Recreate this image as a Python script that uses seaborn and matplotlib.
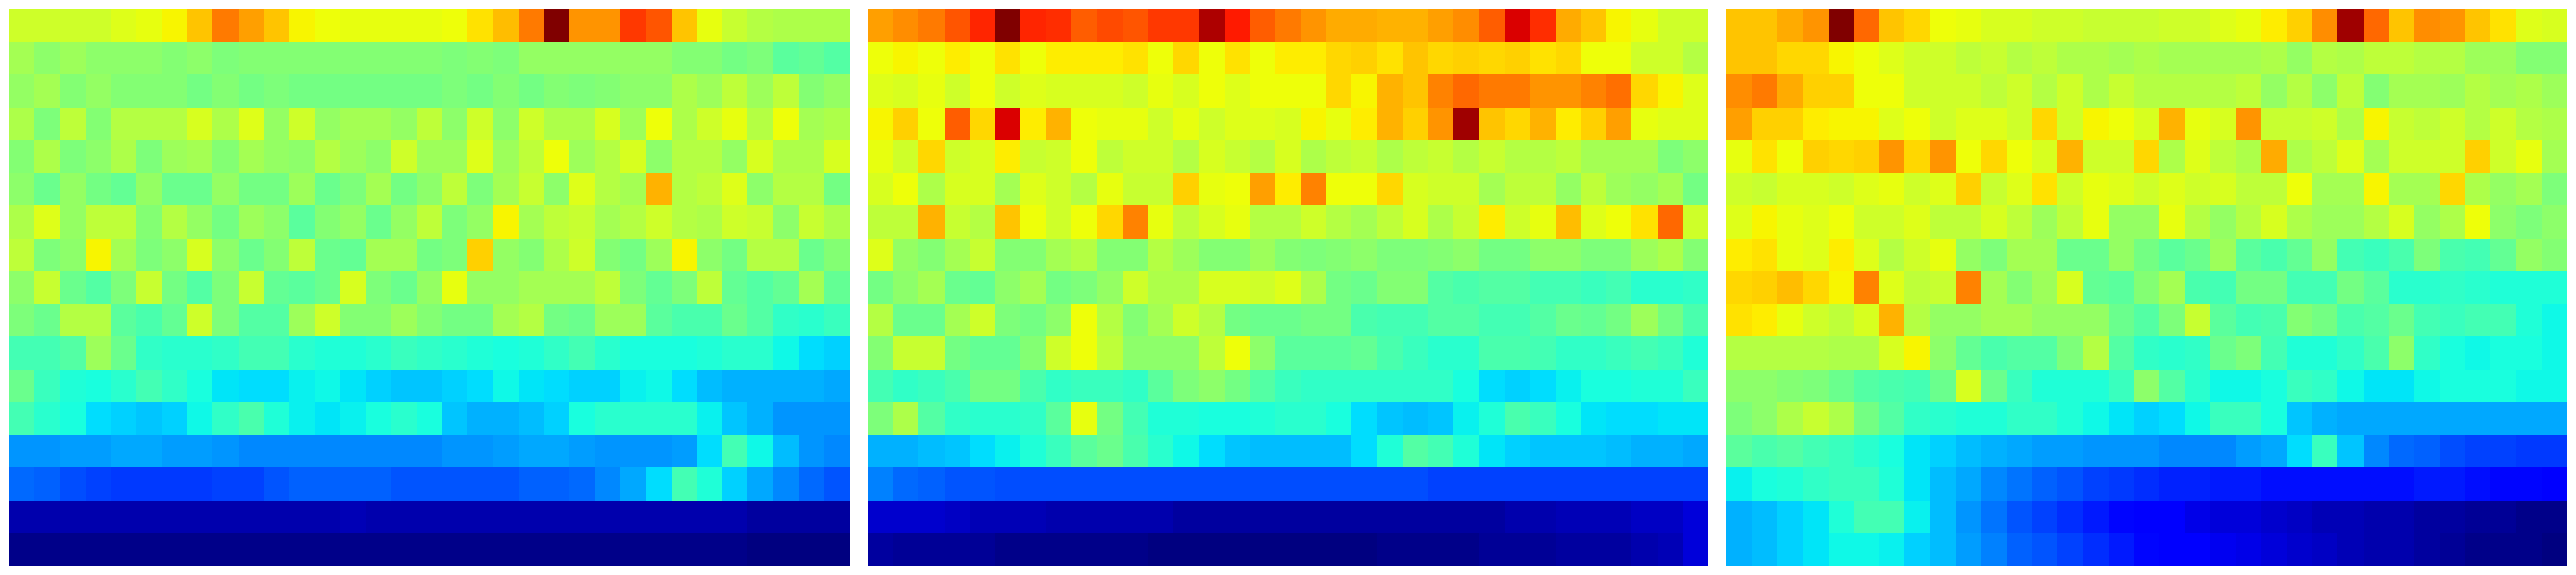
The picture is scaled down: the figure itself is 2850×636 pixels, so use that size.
import matplotlib
matplotlib.use('Agg')
import matplotlib.pyplot as plt
import numpy as np
import seaborn as sns

# values, on a 0-100 scale
left_panel = [
    [60,60,60,60,62,63,65,70,78,74,70,65,64,63,63,63,63,64,67,71,78,100,75,75,85,82,70,63,59,57,56,56,56],
    [55,52,54,52,52,52,51,52,50,51,51,51,51,51,51,51,51,50,51,50,53,53,53,53,53,53,51,51,49,50,46,47,45],
    [53,55,51,53,51,51,51,49,51,49,50,49,49,49,49,49,49,50,49,51,49,51,50,51,52,52,56,54,58,54,58,51,53],
    [56,50,58,51,57,57,57,61,56,62,53,60,53,55,55,53,58,52,60,52,60,56,56,61,54,64,56,60,63,57,64,55,56],
    [51,56,50,52,56,50,54,55,51,55,53,52,57,54,52,60,54,54,62,54,58,64,54,57,61,52,57,57,53,61,56,56,61],
    [52,48,53,49,47,53,48,48,53,49,49,54,48,50,55,49,52,58,50,55,59,52,62,57,55,72,57,58,62,52,57,57,49],
    [56,62,53,58,58,51,57,53,49,54,52,46,51,53,48,53,58,50,53,65,55,58,59,55,57,60,57,56,60,59,52,59,56],
    [58,50,52,65,55,50,52,61,52,48,51,58,48,47,55,55,49,50,69,53,51,56,60,51,49,54,65,52,49,57,57,48,51],
    [52,59,48,45,50,59,49,45,50,59,47,46,48,61,50,48,53,63,53,53,55,55,55,58,50,47,50,58,47,45,47,55,47],
    [50,48,57,57,46,44,47,60,50,45,45,54,60,51,51,54,51,49,49,55,57,49,48,54,54,46,44,44,48,45,41,40,42],
    [43,43,45,54,48,41,40,40,41,43,43,40,39,39,40,42,41,40,39,38,39,41,43,40,38,38,38,39,40,40,37,34,33],
    [48,42,39,38,40,43,41,38,35,34,34,36,37,35,33,32,32,33,34,37,35,34,33,33,36,37,34,31,30,30,30,30,29],
    [43,40,38,34,33,32,33,37,41,44,39,36,35,36,38,40,38,32,30,30,31,33,38,40,40,40,40,36,32,30,27,27,27],
    [27,27,28,28,29,29,28,28,27,26,26,26,26,26,26,26,26,27,27,28,29,29,28,27,27,27,28,34,43,37,31,27,26],
    [23,22,20,19,18,18,18,18,19,19,21,22,22,22,22,21,21,21,21,21,22,22,23,26,29,34,43,39,33,29,26,23,21],
    [4,4,4,4,4,4,4,4,4,4,4,4,4,5,4,4,4,4,4,4,4,4,4,4,4,4,4,4,4,3,3,3,3],
    [1,1,1,1,1,1,1,1,1,1,1,1,1,1,1,1,1,1,1,1,1,1,1,1,1,1,1,1,1,0,0,0,0],
]

middle_panel = [
    [74,76,78,82,87,100,87,86,81,83,82,85,85,96,88,81,78,75,73,73,72,72,74,76,81,92,86,73,70,65,63,60,60],
    [64,65,64,66,64,67,64,66,66,66,67,64,68,64,67,64,66,66,68,69,67,70,68,69,68,69,67,68,64,64,60,60,57],
    [62,61,63,60,64,60,62,61,61,61,60,63,61,64,62,64,64,64,68,65,72,70,77,80,78,78,75,75,77,79,68,65,62],
    [65,69,64,81,68,92,66,72,64,63,63,60,63,60,62,62,61,65,63,66,72,69,75,97,70,68,72,66,69,74,63,62,62],
    [63,60,68,60,61,66,59,60,64,58,60,60,57,61,59,57,61,56,58,59,56,58,59,57,59,57,57,58,55,55,55,50,52],
    [61,64,56,61,61,55,62,60,57,63,59,59,69,63,64,74,66,77,64,64,68,61,60,60,55,58,58,53,58,54,53,55,49],
    [58,58,72,59,57,70,64,60,64,68,77,63,58,61,63,57,57,60,57,55,58,61,56,59,66,60,63,71,62,64,67,80,60],
    [62,53,51,55,59,51,51,55,57,51,51,57,54,51,51,54,51,50,51,52,50,50,51,52,49,49,52,52,50,50,54,56,51],
    [49,52,55,48,47,52,55,49,50,53,60,56,56,61,61,60,62,56,49,48,51,51,45,44,45,45,43,43,42,43,40,40,41],
    [57,48,48,55,60,50,49,52,64,57,51,55,60,57,49,48,48,49,49,44,43,43,45,45,43,43,45,48,47,49,54,49,44],
    [51,59,59,49,47,47,51,60,64,58,52,52,52,58,64,52,46,46,46,47,44,42,40,40,44,44,43,41,41,42,43,42,39],
    [43,41,42,44,49,49,44,41,42,42,41,46,50,52,49,45,42,41,41,41,41,41,41,38,34,33,34,36,38,38,39,39,42],
    [50,56,45,41,40,40,41,46,63,49,43,39,39,38,38,39,40,40,38,34,32,31,32,36,39,44,42,38,35,34,34,35,35],
    [30,30,31,32,34,36,39,42,46,48,44,40,37,34,32,31,31,31,31,34,39,45,43,39,35,33,32,32,32,31,30,30,29],
    [25,23,22,21,21,20,20,20,20,20,20,20,20,20,20,20,20,20,20,20,20,20,19,19,19,19,19,19,19,19,19,19,19],
    [7,7,7,6,5,5,5,4,4,4,4,4,3,3,3,3,3,3,3,3,3,3,3,3,3,4,4,5,5,5,6,6,8],
    [3,2,2,2,2,1,1,1,1,1,1,0,0,0,0,0,0,0,0,0,1,1,1,1,2,2,2,3,3,3,4,5,8],
]

right_panel = [
    [70,70,73,75,100,80,70,68,64,63,61,61,60,60,59,59,59,60,60,62,63,66,69,76,97,80,70,76,75,70,67,62,61],
    [70,70,68,68,65,64,62,60,60,58,59,57,58,56,56,55,56,55,55,55,55,56,53,57,56,58,58,57,57,54,54,51,51],
    [76,78,73,69,69,64,64,60,60,60,58,60,57,60,56,59,57,57,57,57,58,53,57,52,58,51,55,55,54,57,55,56,54],
    [74,69,69,66,65,65,62,64,60,62,62,60,68,60,65,64,61,72,63,61,75,59,59,60,56,65,59,58,60,57,60,57,56],
    [63,67,64,69,68,69,75,68,75,64,68,64,61,72,60,60,68,56,62,58,56,73,56,58,62,55,60,60,60,69,60,63,55],
    [60,59,61,61,60,62,63,60,62,69,59,62,67,60,63,62,60,62,60,61,58,58,64,55,55,65,55,55,68,56,53,55,50],
    [62,65,63,62,64,60,60,62,58,58,61,58,54,58,63,53,53,63,57,53,57,61,56,54,54,57,61,53,56,64,52,50,52],
    [66,67,63,62,66,62,57,60,63,53,50,55,55,48,48,53,49,46,48,54,46,44,47,53,43,42,44,50,44,43,47,53,51],
    [68,69,71,68,65,77,62,58,59,77,55,51,54,61,47,46,51,55,44,43,49,49,43,43,49,46,40,40,41,40,39,39,39],
    [67,66,63,60,58,61,72,57,53,53,55,55,53,53,53,48,45,50,59,46,43,44,51,49,44,45,48,43,42,43,43,39,37],
    [57,57,57,57,56,56,61,65,52,47,44,45,45,50,57,45,41,40,41,48,50,43,39,39,41,44,52,41,38,37,38,38,37],
    [52,52,51,50,48,45,44,43,48,61,48,42,39,39,39,42,52,45,40,37,37,38,42,41,37,35,35,37,38,38,38,37,37],
    [50,52,56,59,56,49,45,41,40,39,39,41,41,39,37,35,33,34,37,42,42,38,32,30,29,29,29,29,29,29,29,29,29],
    [46,44,45,43,42,40,38,35,33,31,30,29,28,28,27,27,27,26,26,26,28,29,34,42,32,26,23,22,20,19,19,18,18],
    [36,38,39,41,42,42,39,35,31,29,26,24,22,21,19,18,17,16,16,15,15,14,14,14,14,14,14,15,15,14,13,13,12],
    [30,31,33,35,39,43,43,36,31,27,24,21,19,17,15,13,12,11,9,8,8,7,6,5,5,4,4,3,3,2,2,1,1],
    [30,31,33,35,37,37,36,33,31,28,25,22,21,19,17,15,13,11,11,10,9,8,7,6,5,4,4,3,2,1,1,1,0],
]

panels = [left_panel, middle_panel, right_panel]
left_edges = [10, 960, 1910]

fig = plt.figure(figsize=(28.5, 6.36), dpi=100)
for panel, x0 in zip(panels, left_edges):
    ax = fig.add_axes([x0 / 2850, 10 / 636, 930 / 2850, 616 / 636])
    sns.heatmap(np.array(panel), cmap='jet', vmin=0, vmax=100, cbar=False,
                xticklabels=False, yticklabels=False, ax=ax)
    ax.set_axis_off()

plt.savefig('out.png', dpi=100)
plt.close()
